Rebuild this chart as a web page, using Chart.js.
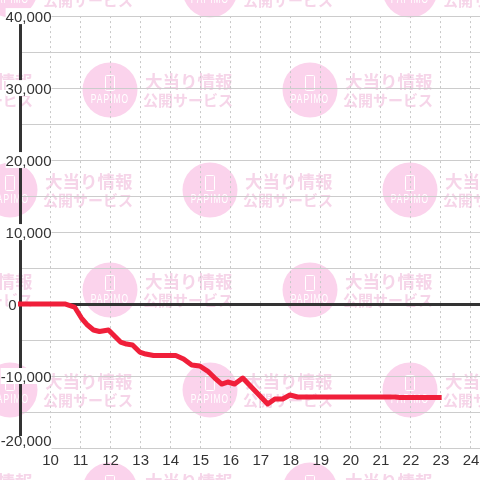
<!DOCTYPE html>
<html><head><meta charset="utf-8">
<style>html,body{margin:0;padding:0;background:#fff}#w{width:480px;height:480px}</style>
<script src="https://cdn.jsdelivr.net/npm/chart.js@4"></script></head>
<body><div id="w"><canvas id="c" width="480" height="480"></canvas></div>
<script>
const hours  = [9,10.5,10.8,11.03,11.23,11.43,11.63,11.93,12.13,12.33,12.53,12.73,12.97,13.17,13.43,14.17,14.43,14.7,14.97,15.23,15.47,15.7,15.9,16.13,16.4,17.23,17.47,17.73,17.97,18.23,21.47,21.63,22.94];
const values = [0,0,-417,-1944,-2917,-3611,-3819,-3611,-4444,-5278,-5556,-5694,-6667,-6944,-7153,-7153,-7639,-8472,-8611,-9306,-10278,-11111,-10833,-11111,-10278,-13889,-13194,-13194,-12639,-12917,-12917,-12986,-12986];
const yMin = -20000, yMax = 40000, yStep = 5000;
const xMin = 9, xMax = 24.3;
const wmTitle = '大当り情報', wmSub = '公開サービス', wmLogo = 'PAPIMO';

const watermark = {
  id:'watermark',
  beforeDraw(chart){
    const g = chart.ctx;
    g.save();
    g.fillStyle='#fff'; g.fillRect(0,0,480,480);
    const rows=[-10,90,190,290,390,490];
    rows.forEach((cy,i)=>{
      for(let cx=(i%2?-90:10); cx<560; cx+=200){
        g.fillStyle='#fbd3ec';
        g.beginPath(); g.arc(cx,cy,27.5,0,Math.PI*2); g.fill();
        g.strokeStyle='#fff'; g.lineWidth=1;
        g.beginPath(); g.roundRect(cx-4.5,cy-14.5,9,15,1); g.stroke();
        g.fillStyle='#fff'; g.textAlign='center'; g.textBaseline='middle';
        g.save();
        g.translate(cx,cy+10);
        g.scale(0.7,1);
        g.font='12px "Liberation Sans"';
        g.letterSpacing='1.5px';
        g.fillText(wmLogo,0,0);
        g.restore();
        g.fillStyle='#f6d5e9'; g.textAlign='left';
        g.font='bold 17.5px "Noto Sans CJK JP"';
        g.fillText(wmTitle,cx+35,cy-9);
        g.font='bold 15px "Noto Sans CJK JP"';
        g.fillText(wmSub,cx+33,cy+10);
      }
    });
    g.restore();
    // labels overlap the plot: no clipping to the axis box, and two labels sit off their ticks
    const s = chart.scales.y;
    s._computeLabelArea = () => null;
    s._labelItems = null;
    s.getLabelItems().forEach(it=>{
      const t = it.label, o = it.options;
      const [x,y] = o.translation;
      if(!t) return;
      let nx=x, ny=y+1.5, bt=y-8;
      if(t==='0') nx=x-35;
      if(t==='-20,000'){ ny=y-6; bt=y-12; }
      o.translation=[nx,ny];
      if(o.backdrop){ o.backdrop.top=bt-ny; o.backdrop.height=16; }
    });
  }
};

new Chart(document.getElementById('c'),{
  type:'line',
  plugins:[watermark],
  data:{datasets:[{
    data:hours.map((h,i)=>({x:h,y:values[i]})),
    borderColor:'#f01f3a',borderWidth:5,pointRadius:0,tension:0,fill:false,
    borderCapStyle:'square',borderJoinStyle:'round',clip:false
  }]},
  options:{
    responsive:false,animation:false,
    layout:{padding:{top:16.1,left:0,right:0,bottom:0}},
    plugins:{legend:{display:false},tooltip:{enabled:false},title:{display:false}},
    scales:{
      x:{type:'linear',min:xMin,max:xMax,
        afterFit(s){s.height=32;s.paddingLeft=0;s.paddingRight=0;},
        grid:{color:'#c8c8c8',lineWidth:1,drawTicks:false,tickLength:0},
        border:{display:false,dash:[2,3]},
        ticks:{stepSize:1,includeBounds:false,autoSkip:false,maxRotation:0,minRotation:0,padding:4,
          color:'#333',font:{family:'"Liberation Sans"',size:15},
          callback:v=>v===xMin?'':String(v)}
      },
      y:{type:'linear',min:yMin,max:yMax,
        afterFit(s){s.width=20.5;s.paddingTop=0;s.paddingBottom=0;},
        grid:{color:c=>c.tick.value===0?'#333':'#cccccc',lineWidth:c=>c.tick.value===0?3:1,drawTicks:false,tickLength:0},
        border:{display:true,color:'#333',width:3},
        ticks:{stepSize:yStep,padding:-31,color:'#333',font:{family:'"Liberation Sans"',size:15},
          showLabelBackdrop:true,backdropColor:'#fff',backdropPadding:{x:0,y:-1},
          callback:v=>v%10000===0?v.toLocaleString('en-US'):''}
      }
    }
  }
});
</script></body></html>
